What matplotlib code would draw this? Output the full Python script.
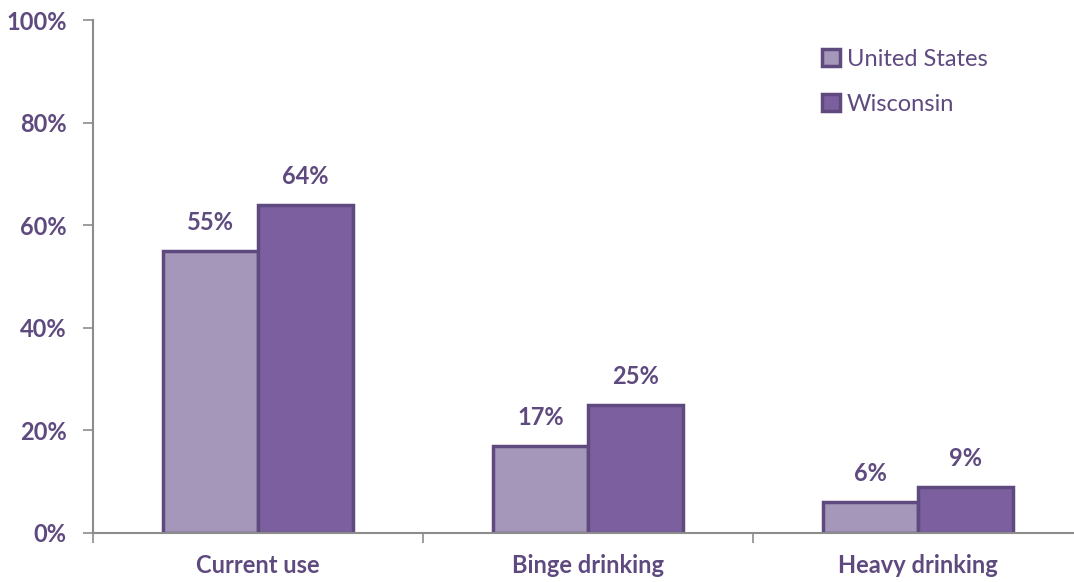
import matplotlib.pyplot as plt
import numpy as np

categories = ['Current use', 'Binge drinking', 'Heavy drinking']
us_values = [55, 17, 6]
wi_values = [64, 25, 9]
series_names = ['United States', 'Wisconsin']

text_color = '#5E4A7E'
edge_color = '#5E4A7E'
light = '#A597B9'
dark = '#7B5F9E'
axis_gray = '#8C8C8C'

plt.rcParams['font.family'] = ['Lato', 'DejaVu Sans']

fig = plt.figure(figsize=(10.74, 5.82), dpi=100)
ax = fig.add_axes([0.0866, 0.0842, 0.9218, 0.8814])

x = np.arange(len(categories))
w = 0.288

b1 = ax.bar(x - w / 2, us_values, w, color=light, edgecolor=edge_color, linewidth=2.5,
            label=series_names[0])
b2 = ax.bar(x + w / 2, wi_values, w, color=dark, edgecolor=edge_color, linewidth=2.5,
            label=series_names[1])

for bars in (b1, b2):
    for r in bars:
        ax.text(r.get_x() + r.get_width() / 2, r.get_height() + 3.3, f'{r.get_height():.0f}%',
                ha='center', va='bottom', fontsize=17, fontweight='bold', color=text_color)

ax.set_xlim(-0.5, 2.5)
ax.set_ylim(0, 100)
ax.set_yticks(range(0, 101, 20))
ax.set_yticklabels([f'{v}%' for v in range(0, 101, 20)])

# category labels centred, ticks at the boundaries
ax.set_xticks(x)
ax.set_xticklabels(categories)
ax.set_xticks([-0.5, 0.5, 1.5, 2.5], minor=True)
ax.tick_params(axis='x', which='major', length=0, pad=15)
ax.tick_params(axis='x', which='minor', length=7, color=axis_gray, width=1.2)
ax.tick_params(axis='y', length=7, color=axis_gray, width=1.2, pad=12)

for lab in ax.get_xticklabels() + ax.get_yticklabels():
    lab.set_fontsize(17)
    lab.set_fontweight('bold')
    lab.set_color(text_color)

for s in ['top', 'right']:
    ax.spines[s].set_visible(False)
for s in ['left', 'bottom']:
    ax.spines[s].set_color(axis_gray)
    ax.spines[s].set_linewidth(1.5)

leg = ax.legend(loc='upper left', bbox_to_anchor=(0.715, 0.985), frameon=False,
                fontsize=17, handlelength=0.75, handleheight=0.75, handletextpad=0.3,
                labelspacing=1.0)
for t in leg.get_texts():
    t.set_color(text_color)

fig.savefig('out.png', dpi=100)
